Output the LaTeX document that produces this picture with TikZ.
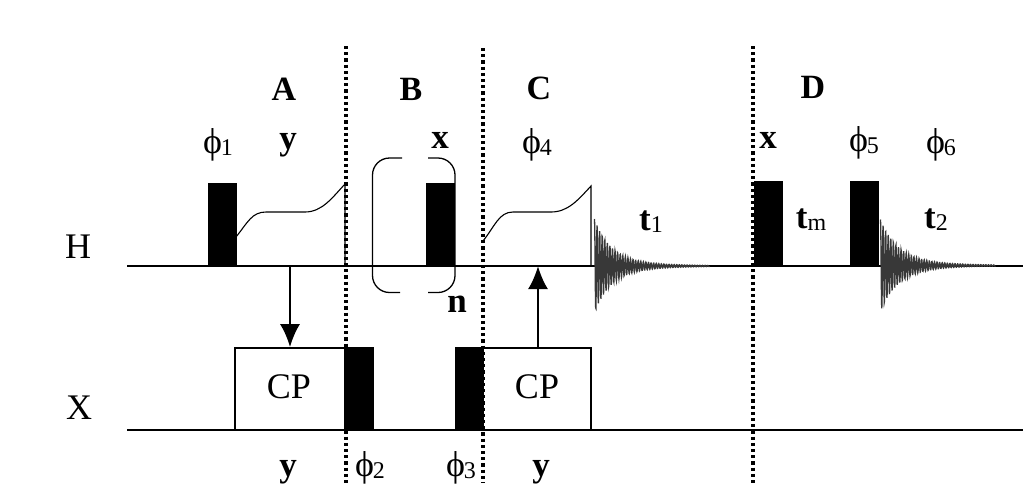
\documentclass[tikz,border=0pt]{standalone}
\usepackage{fontspec}
\setmainfont{Liberation Serif}
\usetikzlibrary{arrows.meta}
\tikzset{
  axis line/.style={draw=black,line width=1.5pt},
  divider/.style={draw=black,line width=3.4pt,dash pattern=on 3.2pt off 3pt},
  pulse/.style={fill=black,draw=none,inner sep=0pt,minimum width=29pt,minimum height=84pt},
  cpbox/.style={draw=black,line width=1.6pt,fill=white,inner sep=0pt,minimum width=110pt,minimum height=82pt},
  cplabel/.style={anchor=base,inner sep=0pt,font=\fontsize{36}{36}\selectfont},
  ramp/.style={draw=black,line width=1.1pt},
  bracket/.style={draw=black,line width=1.3pt,rounded corners=17pt},
  transfer/.style={draw=black,line width=2.5pt,-{Latex[length=23pt,width=20pt]}},
  fid/.style={draw=black!78,line width=1.3pt},
  big/.style={anchor=base,inner sep=0pt,font=\fontsize{34}{34}\selectfont\bfseries},
  lab/.style={anchor=base,inner sep=0pt,font=\fontsize{35}{35}\selectfont\bfseries},
  reg/.style={anchor=base,inner sep=0pt,font=\fontsize{36}{36}\selectfont},
  ph/.style={anchor=base,inner sep=0pt,font=\fontsize{36}{36}\selectfont}
}
\newcommand{\phs}[1]{ϕ\kern-1pt{\fontsize{24}{24}\selectfont\raisebox{-2pt}{#1}}}
\newcommand{\tsub}[1]{{\bfseries t}{\mdseries\fontsize{24}{24}\selectfont\raisebox{-2pt}{#1}}}
\begin{document}
\begin{tikzpicture}[x=1pt,y=-1pt]
\useasboundingbox (0,0) rectangle (1023,483);
% axes
\coordinate (hs) at (127,266); \coordinate (he) at (1023,266);
\coordinate (xs) at (127,430); \coordinate (xe) at (1023,430);
\draw[axis line] (hs) -- (he);
\draw[axis line] (xs) -- (xe);
% pulses
\node[pulse] (p1) at (222,224.5) {};
\node[pulse] (p2) at (440.5,224.5) {};
\node[pulse,minimum height=85pt] (p3) at (768.5,223.5) {};
\node[pulse,minimum height=85pt] (p4) at (864,223.5) {};
\node[pulse] (p5) at (359.5,389) {};
\node[pulse] (p6) at (469,389) {};
% CP boxes
\node[cpbox] (cp1) at (290,389) {};
\node[cpbox,minimum width=108pt] (cp2) at (537,389) {};
\node[cplabel] (cpt1) at (289,398) {CP};
\node[cplabel] (cpt2) at (537,398) {CP};
% ramps
\draw[ramp] (236,237) .. controls (248,222) and (252,212) .. (266,212) -- (305,212)
  .. controls (322,212) and (332,198) .. (345,184) -- (345,266);
\draw[ramp] (483,241) .. controls (495,226) and (499,212) .. (513,212) -- (551,212)
  .. controls (568,212) and (578,200) .. (591,186) -- (591,266);
% bracket
\draw[bracket] (402,158) -- (372.5,158) -- (372.5,292.5) -- (400,292.5);
\draw[bracket] (428,158) -- (455,158) -- (455,292.5) -- (428,292.5);
% FIDs
\draw[fid] plot[samples=500,domain=0:11.5] ({594.5+10*\x},{266-(40*exp(-\x/1.6)+7*exp(-\x/4.5))*cos(\x*1400)});
\draw[fid] plot[samples=550,domain=0:11.5] ({880.5+10*\x},{265.5-(39*exp(-\x/1.7)+7*exp(-\x/4.5))*cos(\x*1400)});
% dividers
\coordinate (d1t) at (346,46); \coordinate (d1b) at (346,483);
\coordinate (d2t) at (483,48); \coordinate (d2b) at (483,483);
\coordinate (d3t) at (753,46); \coordinate (d3b) at (753,483);
\draw[divider] (d1t) -- (d1b);
\draw[divider] (d2t) -- (d2b);
\draw[divider] (d3t) -- (d3b);
% transfer arrows
\coordinate (a1) at (290,266);
\coordinate (a2) at (538,266);
\draw[transfer] (a1) -- (cp1.north);
\draw[transfer] (cp2.north -| a2) -- (a2);
% letters
\node[big] (A) at (284,100) {A};
\node[big] (B) at (411,100) {B};
\node[big] (C) at (539,99) {C};
\node[big] (D) at (813,98) {D};
\node[lab] (y1) at (288,149) {y};
\node[lab] (x1) at (440,148) {x};
\node[lab] (x2) at (768,148) {x};
\node[lab] (n1) at (457,312) {n};
\node[lab] (y2) at (288,476) {y};
\node[lab] (y3) at (541,476) {y};
\node[reg] (H) at (78,258) {H};
\node[reg] (X) at (79,419) {X};
\node[ph] (f1) at (218,153) {\phs{1}};
\node[ph] (f2) at (370,476) {\phs{2}};
\node[ph] (f3) at (461,476) {\phs{3}};
\node[ph] (f4) at (537,153) {\phs{4}};
\node[ph] (f5) at (864,151) {\phs{5}};
\node[ph] (f6) at (941,153) {\phs{6}};
\node[lab] (t1) at (651,230) {\tsub{1}};
\node[lab] (tm) at (811,228) {\tsub{m}};
\node[lab] (t2) at (936,228) {\tsub{2}};
\end{tikzpicture}
\end{document}
